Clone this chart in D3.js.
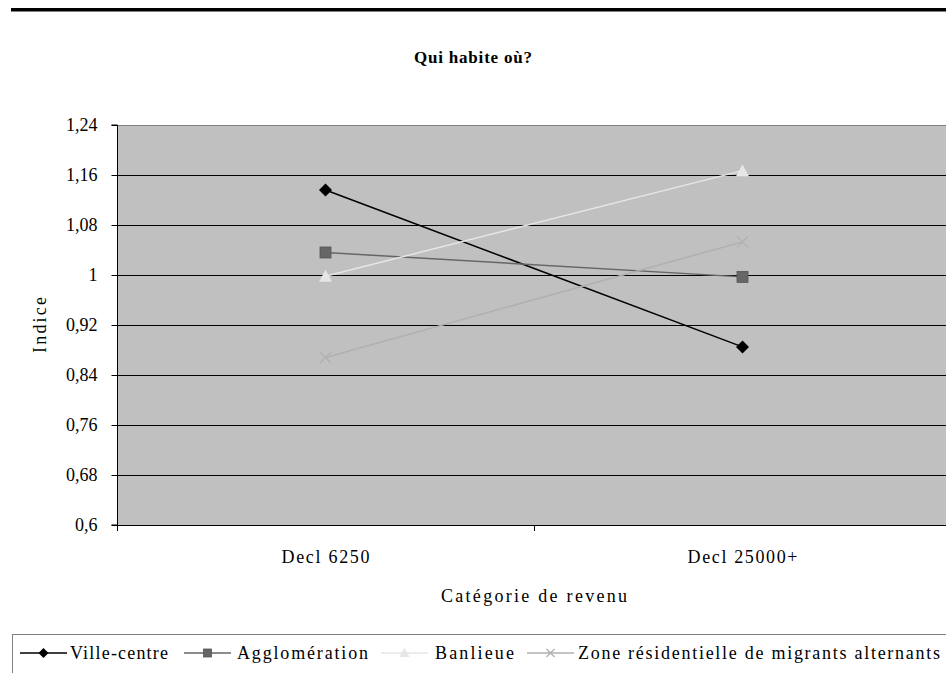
<!DOCTYPE html>
<html>
<head>
<meta charset="utf-8">
<script src="https://cdn.jsdelivr.net/npm/d3@7"></script>
<style>
  html, body { margin: 0; padding: 0; background: #fff; }
  svg { display: block; }
</style>
</head>
<body>
<svg id="chart" width="946" height="673"></svg>
<script>
// Categories and series values (index relative)
const categories = ["Decl 6250", "Decl 25000+"];
const villeCentre = [1.136, 0.885];
const agglomeration = [1.036, 0.997];
const banlieue = [0.998, 1.167];
const zoneMigrants = [0.868, 1.053];
const seriesNames = ["Ville-centre", "Agglomération", "Banlieue", "Zone résidentielle de migrants alternants"];
const yTicks = [0.6, 0.68, 0.76, 0.84, 0.92, 1, 1.08, 1.16, 1.24];

const series = [
  { name: seriesNames[0], values: villeCentre, color: "#000000", marker: "diamond" },
  { name: seriesNames[1], values: agglomeration, color: "#666666", marker: "square" },
  { name: seriesNames[2], values: banlieue, color: "#e6e6e6", marker: "triangle" },
  { name: seriesNames[3], values: zoneMigrants, color: "#b0b0b0", marker: "cross" }
];

const svg = d3.select("#chart");
const serif = "'Liberation Serif', 'Times New Roman', serif";
const fs = 18;

const plot = { left: 117, right: 951, top: 125, bottom: 525 };

const x = d3.scaleBand().domain(categories).range([plot.left, plot.right]).padding(0);
const y = d3.scaleLinear().domain([0.6, 1.24]).range([plot.bottom, plot.top]);

// Heading rule at the top of the page
svg.append("rect").attr("x", 11).attr("y", 8).attr("width", 940).attr("height", 3.5).attr("fill", "#000");

// Chart title
svg.append("text")
  .attr("x", 473).attr("y", 63)
  .attr("text-anchor", "middle")
  .attr("font-family", serif).attr("font-weight", "bold").attr("font-size", 17)
  .attr("textLength", 118).attr("lengthAdjust", "spacing")
  .text("Qui habite où?");

// Plot background
svg.append("rect")
  .attr("x", plot.left).attr("y", plot.top)
  .attr("width", plot.right - plot.left).attr("height", plot.bottom - plot.top)
  .attr("fill", "#c0c0c0");

// Horizontal gridlines
svg.append("g").selectAll("line")
  .data(yTicks.filter(d => d > 0.6))
  .join("line")
  .attr("x1", plot.left).attr("x2", plot.right)
  .attr("y1", d => Math.round(y(d)) + 0.5).attr("y2", d => Math.round(y(d)) + 0.5)
  .attr("stroke", d => d === 1.24 ? "#808080" : "#000").attr("stroke-width", 1);

// Y axis
const yAxis = d3.axisLeft(y)
  .tickValues(yTicks)
  .tickSize(6)
  .tickPadding(14)
  .tickFormat(d => String(d).replace(".", ","));
const gy = svg.append("g")
  .attr("transform", `translate(${plot.left + 0.5},0)`)
  .call(yAxis);
gy.select(".domain").attr("stroke", "#000").attr("d", `M-6,${y(1.24)}H0V${y(0.6)}H-6`);
gy.selectAll(".tick line").attr("stroke", "#000");
gy.selectAll(".tick text")
  .attr("font-family", serif).attr("font-size", fs).attr("fill", "#000");

// X axis with ticks on category boundaries
svg.append("line")
  .attr("x1", plot.left).attr("x2", plot.right)
  .attr("y1", plot.bottom + 0.5).attr("y2", plot.bottom + 0.5)
  .attr("stroke", "#000");
const boundaries = categories.map(c => x(c)).concat([x(categories[categories.length - 1]) + x.bandwidth()]);
svg.append("g").selectAll("line")
  .data(boundaries)
  .join("line")
  .attr("x1", d => Math.round(d) + 0.5).attr("x2", d => Math.round(d) + 0.5)
  .attr("y1", plot.bottom).attr("y2", plot.bottom + 6)
  .attr("stroke", "#000");
const catWidths = [88, 110];
svg.append("g").selectAll("text")
  .data(categories)
  .join("text")
  .attr("x", d => x(d) + x.bandwidth() / 2)
  .attr("y", 563)
  .attr("text-anchor", "middle")
  .attr("font-family", serif).attr("font-size", fs)
  .attr("textLength", (d, i) => catWidths[i]).attr("lengthAdjust", "spacing")
  .text(d => d);

// Axis titles
svg.append("text")
  .attr("x", 534).attr("y", 602)
  .attr("text-anchor", "middle")
  .attr("font-family", serif).attr("font-size", fs)
  .attr("textLength", 186).attr("lengthAdjust", "spacing")
  .text("Catégorie de revenu");
svg.append("text")
  .attr("transform", "translate(46,325) rotate(-90)")
  .attr("text-anchor", "middle")
  .attr("font-family", serif).attr("font-size", fs)
  .attr("textLength", 56).attr("lengthAdjust", "spacing")
  .text("Indice");

// Marker drawing
function drawMarker(g, type, color, size) {
  const s = size;
  if (type === "diamond") {
    g.append("path").attr("d", `M0,${-s - 1}L${s + 1},0L0,${s + 1}L${-s - 1},0Z`).attr("fill", color);
  } else if (type === "square") {
    g.append("rect").attr("x", -s).attr("y", -s).attr("width", 2 * s).attr("height", 2 * s)
      .attr("fill", color).attr("stroke", "#555").attr("stroke-width", 0.8);
  } else if (type === "triangle") {
    g.append("path").attr("d", `M0,${-s - 1}L${s + 1},${s}L${-s - 1},${s}Z`).attr("fill", color);
  } else if (type === "cross") {
    g.append("path").attr("d", `M${-s},${-s}L${s},${s}M${s},${-s}L${-s},${s}`)
      .attr("stroke", color).attr("stroke-width", 1.3).attr("fill", "none");
  }
}

const cx = c => x(c) + x.bandwidth() / 2;
const line = d3.line().x(d => cx(d.cat)).y(d => y(d.v));

series.forEach(s => {
  const pts = categories.map((c, i) => ({ cat: c, v: s.values[i] }));
  svg.append("path")
    .attr("d", line(pts))
    .attr("fill", "none")
    .attr("stroke", s.color)
    .attr("stroke-width", 1.5);
  pts.forEach(p => {
    const g = svg.append("g").attr("transform", `translate(${cx(p.cat)},${y(p.v)})`);
    drawMarker(g, s.marker, s.color, 5.5);
  });
});

// Legend
const legend = svg.append("g");
legend.append("rect")
  .attr("x", 12.5).attr("y", 634.5).attr("width", 945).attr("height", 60)
  .attr("fill", "#fff").attr("stroke", "#808080");
const legendItems = [
  { lx: 20, tx: 70, tw: 98 },
  { lx: 184, tx: 237, tw: 131 },
  { lx: 381, tx: 435, tw: 79 },
  { lx: 527, tx: 578, tw: 362 }
];
series.forEach((s, i) => {
  const it = legendItems[i];
  const ly = 653;
  legend.append("line")
    .attr("x1", it.lx).attr("x2", it.lx + 47)
    .attr("y1", ly).attr("y2", ly)
    .attr("stroke", s.color).attr("stroke-width", 1.5);
  const g = legend.append("g").attr("transform", `translate(${it.lx + 23.5},${ly})`);
  drawMarker(g, s.marker, s.color, 4);
  legend.append("text")
    .attr("x", it.tx).attr("y", ly + 6)
    .attr("font-family", serif).attr("font-size", fs)
    .attr("textLength", it.tw).attr("lengthAdjust", "spacing")
    .text(s.name);
});
</script>
</body>
</html>
